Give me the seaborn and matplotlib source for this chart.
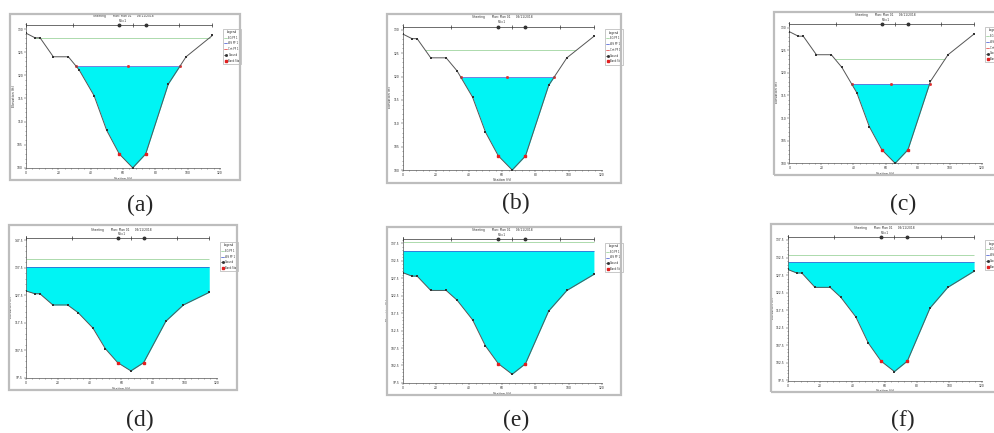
import numpy as np
import matplotlib.pyplot as plt
import seaborn as sns
from matplotlib.patches import Rectangle
from matplotlib.lines import Line2D
from matplotlib.ticker import AutoMinorLocator

sns.set_style("white")
plt.rcParams['font.family'] = ['DejaVu Sans']

W, H = 994, 433

# cross-section geometry (same section in every panel)
station = [0, 5.6, 8.7, 16.9, 26.2, 32.8, 42.1, 49.9, 57.7, 66.0, 74.0, 88.0, 99.0, 115.3]
ground = [129.1, 128.1, 128.1, 124.0, 124.0, 121.2, 115.6, 108.1, 103.0, 100.0, 103.0, 118.1, 124.0, 128.6]
bank_sta = [57.7, 74.0]
n_marks = [0, 28.9, 66.0, 94.8, 115.3]

# one value per panel (a)..(f)
panel_names = ['(a)', '(b)', '(c)', '(d)', '(e)', '(f)']
ws_elev = [121.9, 119.8, 117.5, 138.0, 135.4, 131.3]
eg_elev = [128.1, 125.6, 123.0, 140.6, 138.0, 133.1]
top_line = [130.9, 130.7, 130.8, 148.3, 138.7, 138.4]
y_bottom = [99.9, 100.0, 100.0, 97.3, 97.4, 97.4]
y_top = [131.3, 131.3, 131.3, 149.0, 139.3, 139.0]
yticks = [
    [100, 105, 110, 115, 120, 125, 130],
    [100, 105, 110, 115, 120, 125, 130],
    [100, 105, 110, 115, 120, 125, 130],
    [97.5, 107.5, 117.5, 127.5, 137.5, 147.5],
    [97.5, 102.5, 107.5, 112.5, 117.5, 122.5, 127.5, 132.5, 137.5],
    [97.5, 102.5, 107.5, 112.5, 117.5, 122.5, 127.5, 132.5, 137.5],
]
xticks = [0, 20, 40, 60, 80, 100, 120]

# layout in pixels: frame box, plot box, caption centre
frames = [(10, 14, 240, 180), (387, 14, 621, 183), (774, 12, 1004, 175),
          (9, 225, 237, 390), (387, 227, 621, 395), (771, 224, 1001, 392)]
boxes = [(26, 23, 220, 168.3), (402.7, 23.7, 601.7, 170), (789.3, 21.7, 981.7, 163.3),
         (26, 236.3, 216.7, 378.3), (402.7, 237, 601.7, 383.3), (787.7, 234.7, 981.7, 380.7)]
captions = [(140, 205), (516, 203), (903, 204), (140, 420), (516, 420), (903, 420)]

st = np.array(station)
gr = np.array(ground)


def wet_edges(level):
    k = int(np.argmin(gr))
    left = np.interp(level, gr[:k + 1][::-1], st[:k + 1][::-1])
    right = np.interp(level, gr[k:], st[k:])
    return left, right


fig = plt.figure(figsize=(W / 100, H / 100), dpi=100)

for i in range(6):
    x0, y0, x1, y1 = frames[i]
    fig.add_artist(Rectangle((x0 / W, 1 - y1 / H), (x1 - x0) / W, (y1 - y0) / H,
                             transform=fig.transFigure, fill=False,
                             edgecolor='#bdbdbd', lw=1.6))
    l, t, r, b = boxes[i]
    ax = fig.add_axes([l / W, 1 - b / H, (r - l) / W, (b - t) / H])
    ax.set_facecolor('none')

    ws = ws_elev[i]
    ax.fill_between(st, gr, ws, where=gr < ws, interpolate=True,
                    color='#00f4f4', lw=0, zorder=1)
    wl, wr = wet_edges(ws)
    ax.hlines(ws, wl, wr, color='#3a4fd0', lw=0.5, zorder=2)
    if i < 3:
        ax.plot([wl, (wl + wr) / 2, wr], [ws, ws, ws], ls='none', marker='s',
                ms=1.0, color='#e03030', zorder=3)
    el, er = wet_edges(eg_elev[i])
    ax.hlines(eg_elev[i], el, er, color='#8ccc8c', lw=0.5, zorder=2)

    sns.lineplot(x=station, y=ground, sort=False, ax=ax, color='#555555',
                 lw=0.7, marker='s', markersize=1.6, markeredgewidth=0,
                 markerfacecolor='#333333', legend=False, zorder=4)
    bank_y = np.interp(bank_sta, st, gr)
    ax.plot(bank_sta, bank_y, ls='none', marker='s', ms=2.0, color='#e02020', zorder=5)

    # station bar along the top
    tl = top_line[i]
    ax.plot([0, st[-1]], [tl, tl], color='#333333', lw=0.5, zorder=3)
    ax.plot(n_marks, [tl] * len(n_marks), ls='none', marker='|', ms=2.5,
            mew=0.5, color='#333333', zorder=3)
    ax.plot(bank_sta, [tl] * 2, ls='none', marker='o', ms=1.8,
            mfc='#333333', mec='#333333', zorder=3)

    ax.set_xlim(0, 120)
    ax.set_ylim(y_bottom[i], y_top[i])
    ax.set_xticks(xticks)
    ax.set_yticks(yticks[i])
    ax.set_yticklabels([f"{v:g}" for v in yticks[i]])
    ax.xaxis.set_minor_locator(AutoMinorLocator(5))
    ax.yaxis.set_minor_locator(AutoMinorLocator(5))
    ax.tick_params(which='major', labelsize=2.2, length=1.2, width=0.3, pad=1)
    ax.tick_params(which='minor', length=0.7, width=0.3, bottom=True, left=True)
    ax.tick_params(bottom=True, left=True)
    for s in ['top', 'right']:
        ax.spines[s].set_visible(False)
    for s in ['left', 'bottom']:
        ax.spines[s].set_linewidth(0.5)
        ax.spines[s].set_color('#555555')
    ax.set_xlabel('Station (ft)', fontsize=2.4, labelpad=1)
    ax.set_ylabel('Elevation (ft)', fontsize=2.4, labelpad=1)
    ax.set_title('Sheeting        Plan: Plan 01      09/11/2018\nRS=1',
                 fontsize=2.1, pad=0.2, linespacing=1.2)

    handles = [Line2D([], [], color='#8ccc8c', lw=0.5, label='EG PF 1'),
               Line2D([], [], color='#3a4fd0', lw=0.5, label='WS PF 1')]
    if i < 3:
        handles.append(Line2D([], [], color='#e03030', lw=0.5, label='Crit PF 1'))
    handles += [Line2D([], [], color='#333333', lw=0.5, marker='s', ms=1, label='Ground'),
                Line2D([], [], color='#e02020', ls='none', marker='s', ms=2, label='Bank Sta')]
    leg = ax.legend(handles=handles, title='Legend', fontsize=1.8, title_fontsize=2,
                    loc='upper left', bbox_to_anchor=(1.01, 0.97), frameon=True,
                    fancybox=False, edgecolor='#888888', handlelength=1.2,
                    labelspacing=0.7, borderpad=0.5, handletextpad=0.4)
    leg.get_frame().set_linewidth(0.4)

    cx, cy = captions[i]
    fig.text(cx / W, 1 - cy / H, panel_names[i], ha='center', va='center',
             fontsize=17, family='Liberation Serif')

fig.savefig('out.png', dpi=100)
